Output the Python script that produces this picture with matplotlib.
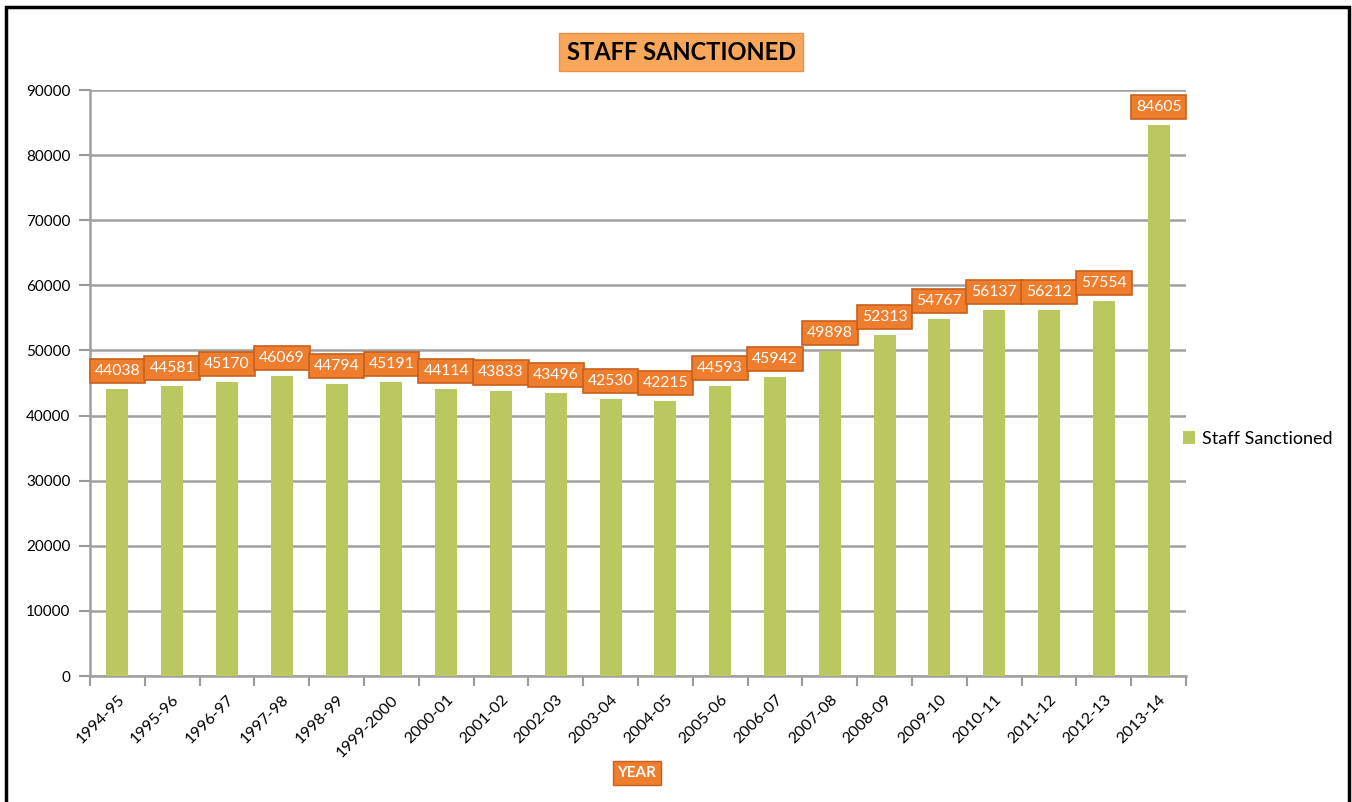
import matplotlib
matplotlib.use("Agg")
import matplotlib.pyplot as plt
from matplotlib.patches import Rectangle, Patch

years = ["1994-95", "1995-96", "1996-97", "1997-98", "1998-99", "1999-2000",
         "2000-01", "2001-02", "2002-03", "2003-04", "2004-05", "2005-06",
         "2006-07", "2007-08", "2008-09", "2009-10", "2010-11", "2011-12",
         "2012-13", "2013-14"]
staff_sanctioned = [44038, 44581, 45170, 46069, 44794, 45191, 44114, 43833,
                    43496, 42530, 42215, 44593, 45942, 49898, 52313, 54767,
                    56137, 56212, 57554, 84605]

plt.rcParams["font.family"] = ["Lato", "DejaVu Sans"]

W, H = 1352, 802
fig = plt.figure(figsize=(W / 100, H / 100), dpi=100)
ax = fig.add_axes([90 / W, 1 - 676 / H, (1186 - 90) / W, (676 - 90) / H])

x = list(range(len(years)))
bar_color = "#BBC75F"
ax.bar(x, staff_sanctioned, width=0.4, color=bar_color, zorder=3,
       label="Staff Sanctioned")

# value labels in orange boxes
for xi, v in zip(x, staff_sanctioned):
    ax.annotate(str(v), (xi, v), xytext=(0, 8), textcoords="offset points",
                ha="center", va="bottom", color="white", fontsize=11.3,
                zorder=5,
                bbox=dict(boxstyle="square,pad=0.32", fc="#EE7D2E",
                          ec="#C8611C", lw=1.2))

ax.set_xlim(-0.5, len(years) - 0.5)
ax.set_ylim(0, 90000)
ax.set_yticks(range(0, 90001, 10000))
ax.tick_params(axis="y", labelsize=11, length=8, width=1.5, color="#999999",
               direction="out", pad=6)
ax.grid(axis="y", color="#A0A0A0", lw=1.8, zorder=0)

# category ticks at bar boundaries, labels at centers
ax.set_xticks([i - 0.5 for i in range(len(years) + 1)], minor=False)
ax.set_xticklabels([])
ax.set_xticks(x, minor=True)
ax.set_xticklabels(years, minor=True, rotation=45, ha="right",
                   rotation_mode="anchor", fontsize=11.5)
ax.tick_params(axis="x", which="major", length=7, width=1.5, color="#999999")
ax.tick_params(axis="x", which="minor", length=0, pad=12)

for side in ["top", "right"]:
    ax.spines[side].set_visible(False)
for side in ["left", "bottom"]:
    ax.spines[side].set_color("#A0A0A0")
    ax.spines[side].set_linewidth(1.8)

# title
fig.text(681 / W, 1 - 52 / H, "STAFF SANCTIONED", ha="center", va="center",
         fontsize=17, fontweight="bold", color="black",
         bbox=dict(boxstyle="square,pad=0.3", fc="#F8A65A", ec="#E8924A", lw=1))

# x axis title
fig.text(637 / W, 1 - 773 / H, "YEAR", ha="center", va="center",
         fontsize=11, fontweight="bold", color="white",
         bbox=dict(boxstyle="square,pad=0.3", fc="#EE7D2E", ec="#C8611C", lw=1))

# legend
ax.legend(handles=[Patch(fc=bar_color, label="Staff Sanctioned")],
          loc="center left", bbox_to_anchor=(0.982, 0.405), frameon=False,
          fontsize=13, handlelength=0.7, handleheight=0.7, handletextpad=0.4)

# outer frame
fig.add_artist(Rectangle((6 / W, -0.02), (1349 - 6) / W, 1.02 - 7 / H,
                         transform=fig.transFigure, fill=False, ec="black",
                         lw=2.5))

fig.savefig("out.png", dpi=100, facecolor="white")
